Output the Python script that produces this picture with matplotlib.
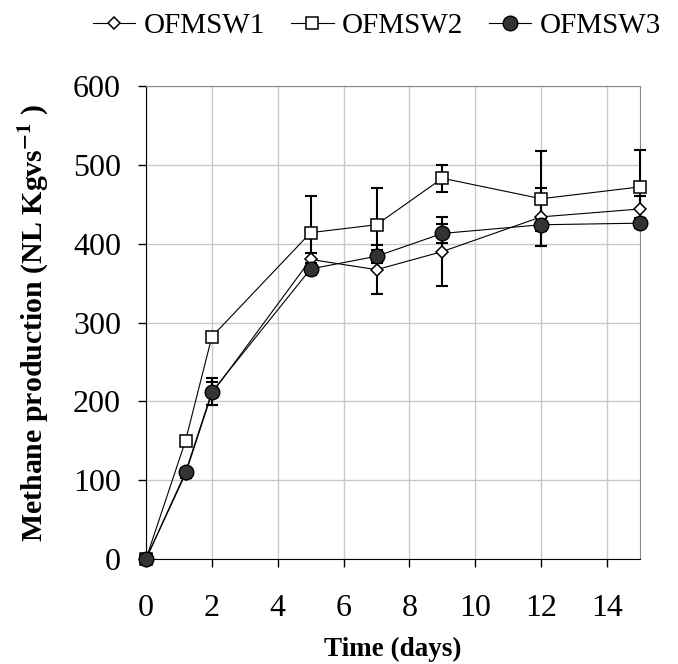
import matplotlib
matplotlib.use("Agg")
import matplotlib.pyplot as plt
import numpy as np

plt.rcParams['font.family'] = ['Liberation Serif', 'DejaVu Serif']
plt.rcParams['mathtext.fontset'] = 'stix'

days = [0, 1.2, 2, 5, 7, 9, 12, 15]
ofmsw1 = [0, 108, 210, 380, 367, 390, 434, 444]
ofmsw1_err = [0, 5, 15, 8, 31, 44, 37, 16]
ofmsw2 = [0, 150, 282, 414, 424, 483, 457, 472]
ofmsw2_err = [0, 4, 5, 46, 47, 17, 60, 47]
ofmsw3 = [0, 110, 212, 368, 384, 413, 424, 426]
ofmsw3_err = [0, 5, 17, 8, 8, 12, 8, 6]
series_names = ["OFMSW1", "OFMSW2", "OFMSW3"]
x_ticks = [0, 2, 4, 6, 8, 10, 12, 14]
y_ticks = [0, 100, 200, 300, 400, 500, 600]

fig = plt.figure(figsize=(6.78, 6.64), dpi=100)
ax = fig.add_axes([146/678, 1-559/664, (640-146)/678, (559-86)/664])

styles = [
    dict(marker='D', mfc='white', mec='black', ms=6.5, mew=1.1),
    dict(marker='s', mfc='white', mec='black', ms=8, mew=1.1),
    dict(marker='o', mfc='#333333', mec='black', ms=10.5, mew=1.0),
]
handles = []
for vals, errs, st, name in zip([ofmsw1, ofmsw2, ofmsw3],
                                [ofmsw1_err, ofmsw2_err, ofmsw3_err],
                                styles, series_names):
    eb = ax.errorbar(days, vals, yerr=errs, fmt='none', ecolor='black',
                     elinewidth=1.5, capsize=4.5, capthick=1.5, zorder=3)
    for art in eb.get_children():
        art.set_clip_on(False)
    h, = ax.plot(days, vals, color='black', lw=0.8, zorder=4, label=name,
                 clip_on=False, **st)
    handles.append(h)

ax.set_xlim(0, 15)
ax.set_ylim(0, 600)
ax.set_xticks(x_ticks)
ax.set_yticks(y_ticks)
ax.grid(True, color='#c8c8c8', lw=1.0)
ax.set_axisbelow(True)
ax.tick_params(axis='both', labelsize=23, direction='out', length=6, width=1)
ax.tick_params(axis='y', pad=12)
ax.tick_params(axis='x', pad=19)
for s in ['top', 'right']:
    ax.spines[s].set_color('#888888')
for s in ['left', 'bottom']:
    ax.spines[s].set_color('black')

ax.set_xlabel("Time (days)", fontsize=19.5, fontweight='bold', labelpad=10)
ax.set_ylabel(r"Methane production (NL Kgvs$^{\mathbf{-1}}$ )", fontsize=21.5,
              fontweight='bold', labelpad=16)

fig.legend(handles=handles, loc='center', bbox_to_anchor=(377/678, 1-26/664),
           ncol=3, frameon=False, fontsize=21, handlelength=1.45,
           handletextpad=0.28, columnspacing=0.9, borderpad=0, borderaxespad=0)

fig.savefig("out.png", dpi=100)
